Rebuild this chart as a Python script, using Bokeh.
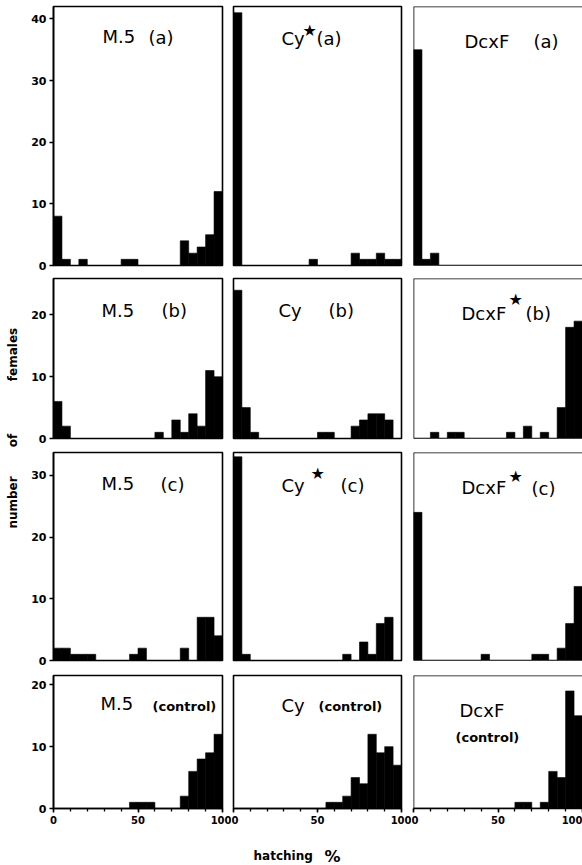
import math
from bokeh.plotting import figure
from bokeh.layouts import column, row
from bokeh.models import Label, FixedTicker, Span, Range1d
from bokeh.embed import file_html
from bokeh.resources import INLINE

# ---------------- data: number of females per 5 % hatching class ----------------
bin_left = [0, 5, 10, 15, 20, 25, 30, 35, 40, 45, 50, 55, 60, 65, 70, 75, 80, 85, 90, 95]
bin_right = [5, 10, 15, 20, 25, 30, 35, 40, 45, 50, 55, 60, 65, 70, 75, 80, 85, 90, 95, 100]

m5_a = [8, 1, 0, 1, 0, 0, 0, 0, 1, 1, 0, 0, 0, 0, 0, 4, 2, 3, 5, 12]
cy_a = [41, 0, 0, 0, 0, 0, 0, 0, 0, 1, 0, 0, 0, 0, 2, 1, 1, 2, 1, 1]
dcxf_a = [35, 1, 2, 0, 0, 0, 0, 0, 0, 0, 0, 0, 0, 0, 0, 0, 0, 0, 0, 0]

m5_b = [6, 2, 0, 0, 0, 0, 0, 0, 0, 0, 0, 0, 1, 0, 3, 1, 4, 2, 11, 10]
cy_b = [24, 5, 1, 0, 0, 0, 0, 0, 0, 0, 1, 1, 0, 0, 2, 3, 4, 4, 3, 0]
dcxf_b = [0, 0, 1, 0, 1, 1, 0, 0, 0, 0, 0, 1, 0, 2, 0, 1, 0, 5, 18, 19]

m5_c = [2, 2, 1, 1, 1, 0, 0, 0, 0, 1, 2, 0, 0, 0, 0, 2, 0, 7, 7, 4]
cy_c = [33, 1, 0, 0, 0, 0, 0, 0, 0, 0, 0, 0, 0, 1, 0, 3, 1, 6, 7, 0]
dcxf_c = [24, 0, 0, 0, 0, 0, 0, 0, 1, 0, 0, 0, 0, 0, 1, 1, 0, 2, 6, 12]

m5_ctrl = [0, 0, 0, 0, 0, 0, 0, 0, 0, 1, 1, 1, 0, 0, 0, 2, 6, 8, 9, 12]
cy_ctrl = [0, 0, 0, 0, 0, 0, 0, 0, 0, 0, 0, 1, 1, 2, 5, 4, 12, 9, 10, 7]
dcxf_ctrl = [0, 0, 0, 0, 0, 0, 0, 0, 0, 0, 0, 0, 1, 1, 0, 1, 6, 5, 19, 15]

y_ticks_row1 = [0, 10, 20, 30, 40]
y_ticks_row2 = [0, 10, 20]
y_ticks_row3 = [0, 10, 20, 30]
y_ticks_row4 = [0, 10, 20]
x_ticks = [0, 50, 100]
x_minor_ticks = [0, 10, 20, 30, 40, 50, 60, 70, 80, 90, 100]

names = [["M.5", "Cy", "DcxF"],
         ["M.5", "Cy", "DcxF"],
         ["M.5", "Cy", "DcxF"],
         ["M.5", "Cy", "DcxF"]]
stars = [[False, True, False],
         [False, False, True],
         [False, True, True],
         [False, False, False]]
suffixes = ["(a)", "(b)", "(c)", "(control)"]
y_label_words = ["number", "of", "females"]
x_label_word = "hatching"
x_label_unit = "%"

counts = [[m5_a, cy_a, dcxf_a],
          [m5_b, cy_b, dcxf_b],
          [m5_c, cy_c, dcxf_c],
          [m5_ctrl, cy_ctrl, dcxf_ctrl]]
y_ticks = [y_ticks_row1, y_ticks_row2, y_ticks_row3, y_ticks_row4]

# ---------------- layout (pixels) ----------------
PAGE_W, PAGE_H = 582, 865
STRIP_W = 20          # left strip holding the y title
STRIP_H = 35          # bottom strip holding the x title
y_tops = [42.0, 25.9, 33.7, 21.5]
frame_h = [259, 160, 208, 133]
border_top = [6, 7, 7, 7]
border_bottom = [6, 7, 8, 22]
frame_left = [53, 233, 413]
frame_w = [169, 168, 169]
border_left = [33, 2, 2]
border_right = [9, 10, 0]
frame_bottom = [265, 438, 660, 808]

# title positions, page coordinates (left x, centre y) for name / star / suffix
title_pos = {
    (0, 0): ((102, 36), None, (148, 37)),
    (0, 1): ((281, 38), (302, 30), (316, 38)),
    (0, 2): ((464, 41), None, (533, 41)),
    (1, 0): ((101, 310), None, (161, 310)),
    (1, 1): ((278, 310), None, (328, 310)),
    (1, 2): ((461, 313), (508, 299), (525, 313)),
    (2, 0): ((101, 483), None, (160, 484)),
    (2, 1): ((281, 485), (310, 473), (340, 485)),
    (2, 2): ((461, 487), (508, 476), (531, 488)),
    (3, 0): ((100, 703), None, (152, 706)),
    (3, 1): ((281, 705), None, (318, 706)),
    (3, 2): ((459, 710), None, (455, 737)),
}

TITLE_FONT = "DejaVu Sans"
TICK_FONT = "DejaVu Sans"


def bare_figure(w, h):
    f = figure(frame_width=w, frame_height=h,
               min_border_left=0, min_border_right=0, min_border_top=0, min_border_bottom=0,
               x_range=Range1d(0, w), y_range=Range1d(0, h),
               x_axis_location=None, y_axis_location=None,
               toolbar_location=None, tools="", output_backend="svg",
               background_fill_color="white", border_fill_color="white")
    f.outline_line_color = None
    f.xgrid.visible = False
    f.ygrid.visible = False
    return f


def make_panel(r, c):
    has_y = c == 0
    has_x = r == 3
    p = figure(
        frame_width=frame_w[c], frame_height=frame_h[r],
        min_border_left=border_left[c], min_border_right=border_right[c],
        min_border_top=border_top[r], min_border_bottom=border_bottom[r],
        x_range=Range1d(0, 100), y_range=Range1d(0, y_tops[r]),
        x_axis_location="below" if has_x else None,
        y_axis_location="left" if has_y else None,
        toolbar_location=None, tools="", output_backend="svg",
        background_fill_color="white", border_fill_color="white",
    )
    p.xgrid.visible = False
    p.ygrid.visible = False
    if c == 2:
        p.outline_line_color = None
        for loc, dim in ((y_tops[r], "width"), (0, "width")):
            p.add_layout(Span(location=loc, dimension=dim, line_color="black", line_width=1.6))
        p.add_layout(Span(location=0, dimension="height", line_color="black", line_width=1.6))
    else:
        p.outline_line_color = "black"
        p.outline_line_width = 1.6

    p.quad(left=bin_left, right=bin_right, bottom=0, top=counts[r][c],
           fill_color="black", line_color="black", line_width=0.6)

    if has_y:
        ax = p.yaxis[0]
        ax.ticker = FixedTicker(ticks=y_ticks[r])
        ax.axis_line_color = "black"
        ax.axis_line_width = 1.6
        ax.major_tick_line_color = "black"
        ax.major_tick_line_width = 1.5
        ax.major_tick_out = 4
        ax.major_tick_in = 0
        ax.minor_tick_line_color = None
        ax.major_label_text_font = TICK_FONT
        ax.major_label_text_font_style = "bold"
        ax.major_label_text_font_size = "11px"
        ax.major_label_text_color = "black"
        ax.major_label_standoff = 3
    if has_x:
        ax = p.xaxis[0]
        ax.ticker = FixedTicker(ticks=x_ticks, minor_ticks=x_minor_ticks)
        ax.axis_line_color = "black"
        ax.axis_line_width = 1.6
        ax.major_tick_line_color = "black"
        ax.major_tick_line_width = 1.5
        ax.major_tick_out = 4
        ax.major_tick_in = 0
        ax.minor_tick_line_color = "black"
        ax.minor_tick_line_width = 1.3
        ax.minor_tick_out = 3
        ax.minor_tick_in = 0
        ax.major_label_text_font = TICK_FONT
        ax.major_label_text_font_style = "bold"
        ax.major_label_text_font_size = "10px"
        ax.major_label_text_color = "black"
        ax.major_label_standoff = 3

    # panel titles
    fl, fb = frame_left[c], frame_bottom[r]
    name_xy, star_xy, suf_xy = title_pos[(r, c)]
    p.add_layout(Label(x=name_xy[0] - fl, y=fb - name_xy[1], x_units="screen", y_units="screen",
                       text=names[r][c], text_font=TITLE_FONT, text_font_size="18px",
                       text_align="left", text_baseline="middle", text_color="black"))
    if stars[r][c]:
        p.add_layout(Label(x=star_xy[0] - fl, y=fb - star_xy[1], x_units="screen", y_units="screen",
                           text="\u2605", text_font=TITLE_FONT, text_font_size="16px",
                           text_align="left", text_baseline="middle", text_color="black"))
    if r == 3:
        p.add_layout(Label(x=suf_xy[0] - fl, y=fb - suf_xy[1], x_units="screen", y_units="screen",
                           text=suffixes[r], text_font=TITLE_FONT, text_font_size="13px",
                           text_font_style="bold",
                           text_align="left", text_baseline="middle", text_color="black"))
    else:
        p.add_layout(Label(x=suf_xy[0] - fl, y=fb - suf_xy[1], x_units="screen", y_units="screen",
                           text=suffixes[r], text_font=TITLE_FONT, text_font_size="18px",
                           text_align="left", text_baseline="middle", text_color="black"))
    return p


panels = [[make_panel(r, c) for c in range(3)] for r in range(4)]

# left strip: y-axis title words ("number of females"), rotated; page coords (x centre, y centre)
left_strip = bare_figure(STRIP_W, PAGE_H)
ylab_pos = {"females": (12, 354), "of": (12, 440), "number": (12, 502)}
for word in y_label_words:
    px, py = ylab_pos[word]
    left_strip.add_layout(Label(x=px, y=PAGE_H - py, x_units="screen", y_units="screen",
                                text=word, angle=math.pi / 2, text_font=TICK_FONT,
                                text_font_size="12px", text_font_style="bold",
                                text_align="center", text_baseline="middle", text_color="black"))

# bottom strip: x-axis title ("hatching %")
bottom_strip = bare_figure(PAGE_W - STRIP_W, STRIP_H)
bottom_strip.add_layout(Label(x=253 - STRIP_W, y=PAGE_H - 855, x_units="screen", y_units="screen",
                              text=x_label_word, text_font=TICK_FONT, text_font_size="12px",
                              text_font_style="bold", text_align="left", text_baseline="alphabetic",
                              text_color="black"))
bottom_strip.add_layout(Label(x=324 - STRIP_W, y=PAGE_H - 856, x_units="screen", y_units="screen",
                              text=x_label_unit, text_font=TICK_FONT, text_font_size="16px",
                              text_font_style="bold", text_align="left", text_baseline="alphabetic",
                              text_color="black"))

grid = column(*[row(*panels[r], spacing=0) for r in range(4)], bottom_strip, spacing=0)
layout = row(left_strip, grid, spacing=0)
open("out.html", "w").write(file_html(layout, INLINE))
